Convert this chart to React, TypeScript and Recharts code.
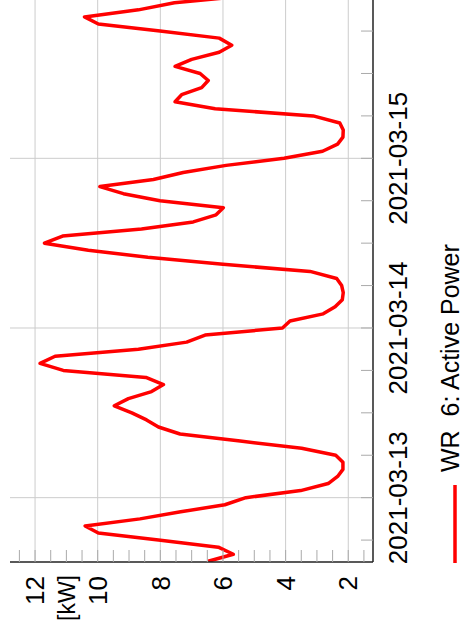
import { type ReactElement } from 'react'
import {
  LineChart,
  Line,
  XAxis,
  YAxis,
  CartesianGrid,
  ReferenceLine,
  Legend,
} from 'recharts'

// hours since 2021-03-13 00:00, hourly samples
const HOURS = [
  -9, -8, -7, -6, -5, -4, -3, -2, -1,
  0, 1, 2, 3, 4, 5, 6, 7, 8, 9, 10, 11, 12, 13, 14, 15, 16, 17, 18, 19, 20, 21, 22, 23,
  24, 25, 26, 27, 28, 29, 30, 31, 32, 33, 34, 35, 36, 37, 38, 39, 40, 41, 42, 43, 44, 45, 46, 47,
  48, 49, 50, 51, 52, 53, 54, 55, 56, 57, 58, 59, 60, 61, 62, 63, 64, 65, 66, 67, 68, 69, 70, 71,
]

// kW
const ACTIVE_POWER = [
  6.47, 5.67, 6.15, 8.06, 9.98, 10.4, 8.65, 7.35, 5.94,
  5.27, 3.52, 2.64, 2.34, 2.17, 2.17, 2.4, 3.49, 5.45, 7.37, 8.06, 8.44, 8.91, 9.47, 9.02, 8.28, 7.9, 8.46, 11.1, 11.84, 11.36, 8.7, 7.16, 6.57,
  4.1, 3.86, 2.8, 2.42, 2.19, 2.16, 2.21, 2.37, 3.22, 6.0, 8.4, 10.3, 11.7, 11.12, 8.6, 6.95, 6.22, 5.99, 8.01, 9.18, 9.93, 8.22, 7.27, 5.9,
  4.05, 2.82, 2.34, 2.17, 2.16, 2.27, 3.12, 6.25, 7.53, 7.32, 6.68, 6.47, 6.73, 7.53, 7.0, 6.12, 5.72, 6.12, 8.01, 9.98, 10.42, 8.7, 7.55, 5.2,
]

const DAY_TICKS = [0, 24, 48]
const DAY_LABELS = ['2021-03-13', '2021-03-14', '2021-03-15']
const TIME_TICKS = [-6, 0, 6, 12, 18, 24, 30, 36, 42, 48, 54, 60, 66]

const KW_TICKS = [1.5, 2, 2.5, 3, 3.5, 4, 4.5, 5, 5.5, 6, 6.5, 7, 7.5, 8, 8.5, 9, 9.5, 10, 10.5, 11, 11.5, 12, 12.5]
const KW_LABELS = [2, 4, 6, 8, 10, 12]
const UNIT_LABEL = '[kW]'
const SERIES_NAME = 'WR  6: Active Power'

const FONT = "'Liberation Sans', Arial, sans-serif"

const data = HOURS.map((t, i) => ({ t, power: ACTIVE_POWER[i] }))

function formatTime(t: number): string {
  const idx = DAY_TICKS.indexOf(t)
  return idx >= 0 ? DAY_LABELS[idx]! : ''
}

function formatKw(v: number): string {
  return KW_LABELS.includes(v) ? String(v) : ''
}

function PowerLegend(): ReactElement {
  return (
    <div style={{ display: 'flex', alignItems: 'flex-start', fontFamily: FONT, height: 22 }}>
      <svg width={80} height={22}>
        <line x1={0} y1={16} x2={78} y2={16} stroke="#ff0000" strokeWidth={3.5} />
      </svg>
      <span style={{ marginLeft: 11, fontSize: 25, lineHeight: '22px', whiteSpace: 'pre', color: '#000' }}>
        {SERIES_NAME}
      </span>
    </div>
  )
}

export default function App(): ReactElement {
  return (
    <div style={{ position: 'absolute', left: 0, top: 0, width: 464, height: 640, overflow: 'hidden', background: '#fff' }}>
      <div
        style={{
          position: 'absolute',
          left: 0,
          top: 0,
          width: 655,
          height: 464,
          transformOrigin: '0 0',
          transform: 'translate(0px, 640px) rotate(-90deg)',
        }}
      >
        <LineChart width={655} height={464} data={data} margin={{ top: 10, right: 10, bottom: 50, left: 8 }}>
          <CartesianGrid
            stroke="#cccccc"
            horizontalValues={KW_LABELS}
            verticalValues={DAY_TICKS}
          />
          <XAxis
            dataKey="t"
            type="number"
            domain={[-9.1, 71.1]}
            allowDataOverflow
            ticks={TIME_TICKS}
            interval={0}
            tickFormatter={formatTime}
            height={41}
            tickSize={-12}
            tickMargin={28}
            axisLine={{ stroke: '#222', strokeWidth: 1.5 }}
            tickLine={{ stroke: '#aaa' }}
            tick={{ fill: '#000', fontSize: 26, fontFamily: FONT }}
          />
          <YAxis
            type="number"
            domain={[1.21, 12.8]}
            allowDataOverflow
            ticks={KW_TICKS}
            interval={0}
            tickFormatter={formatKw}
            width={70}
            tickSize={-12}
            tickMargin={26}
            axisLine={{ stroke: '#222', strokeWidth: 1.5 }}
            tickLine={{ stroke: '#aaa' }}
            tick={{ fill: '#000', fontSize: 26, fontFamily: FONT }}
          />
          <ReferenceLine
            y={11}
            stroke="none"
            label={{ value: UNIT_LABEL, position: 'left', offset: 13, fill: '#000', fontSize: 23, fontFamily: FONT }}
          />
          <Legend
            layout="horizontal"
            align="center"
            verticalAlign="middle"
            content={() => <PowerLegend />}
            wrapperStyle={{ left: 77, top: 439, width: 'auto', height: 22 }}
          />
          <Line
            type="linear"
            dataKey="power"
            name={SERIES_NAME}
            stroke="#ff0000"
            strokeWidth={3.5}
            strokeLinejoin="round"
            dot={false}
            activeDot={false}
            isAnimationActive={false}
          />
        </LineChart>
      </div>
    </div>
  )
}
